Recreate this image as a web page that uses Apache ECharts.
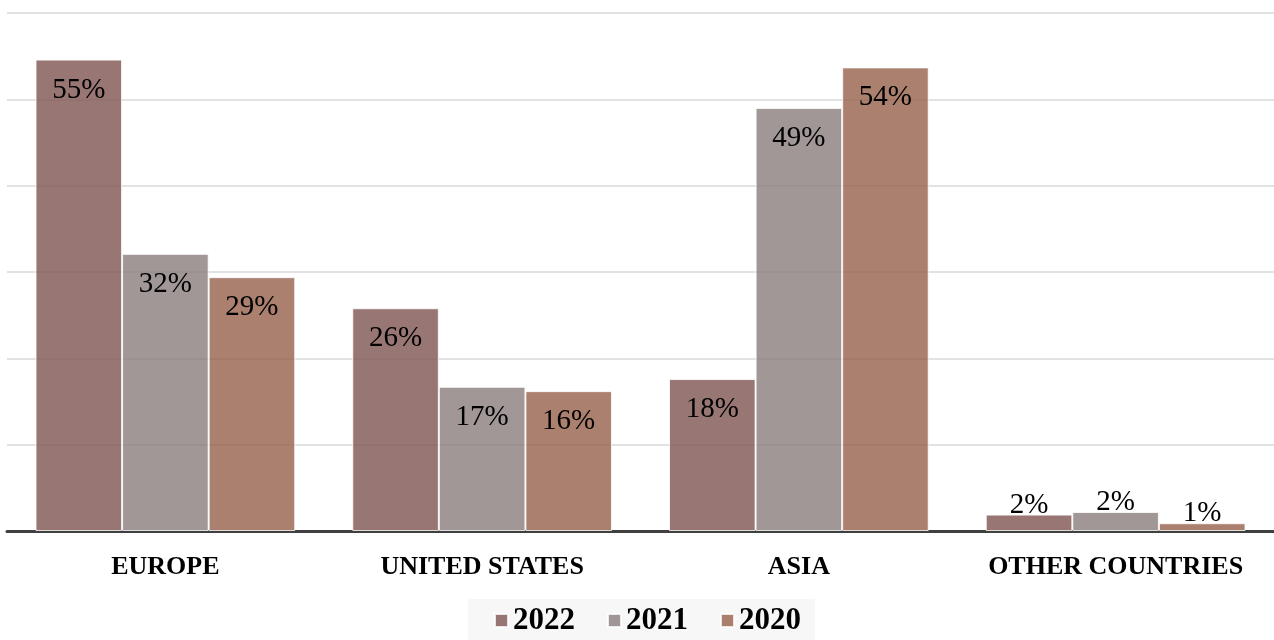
<!DOCTYPE html>
<html><head><meta charset="utf-8">
<script src="https://cdn.jsdelivr.net/npm/echarts@6/dist/echarts.min.js"></script>
<style>html,body{margin:0;padding:0;background:#fff}#c{width:1274px;height:640px}</style>
</head><body><div id="c"></div>
<script>
const categories = ['EUROPE', 'UNITED STATES', 'ASIA', 'OTHER COUNTRIES'];
const seriesNames = ['2022', '2021', '2020'];
const values2022 = [54.6, 25.8, 17.6, 1.9];
const values2021 = [32.1, 16.7, 49.0, 2.2];
const values2020 = [29.4, 16.2, 53.7, 0.9];
const colors = ['rgba(134,94,91,0.85)', 'rgba(140,128,128,0.82)', 'rgba(152,100,79,0.82)'];
const FONT = 'Liberation Serif';

const chart = echarts.init(document.getElementById('c'), null, {renderer: 'canvas'});
function mk(name, vals, i) {
  return {
    name, type: 'bar', barGap: '0%', barCategoryGap: '18%',
    itemStyle: {color: colors[i], borderColor: 'rgba(255,255,255,0.8)', borderWidth: 1},
    data: vals.map((v, j) => j === 3 ? {value: v, label: {position: 'top', distance: -5}} : v),
    label: {show: true, position: 'insideTop', distance: 16, color: '#000',
      fontFamily: FONT, fontSize: 29, formatter: p => Math.round(p.value) + '%'}
  };
}
chart.setOption({
  animation: false,
  color: colors,
  grid: {left: 7, right: 0, top: 13, bottom: 109},
  legend: {bottom: 0, left: 468, itemWidth: 13, itemHeight: 13, itemGap: 32,
    backgroundColor: '#f7f7f7', padding: [6, 14, 4, 26],
    icon: 'rect',
    textStyle: {fontFamily: FONT, fontWeight: 'bold', fontSize: 31, color: '#000'},
    data: seriesNames},
  xAxis: {type: 'category', data: categories,
    axisLine: {lineStyle: {color: '#404040', width: 3}},
    axisTick: {show: false},
    axisLabel: {fontFamily: FONT, fontWeight: 'bold', fontSize: 26, color: '#000', margin: 23, interval: 0}},
  yAxis: {type: 'value', min: 0, max: 60, interval: 10,
    axisLabel: {show: false}, axisLine: {show: false}, axisTick: {show: false},
    splitLine: {lineStyle: {color: '#d9d9d9', width: 1.5}}},
  series: [mk(seriesNames[0], values2022, 0), mk(seriesNames[1], values2021, 1), mk(seriesNames[2], values2020, 2)]
});
</script></body></html>
